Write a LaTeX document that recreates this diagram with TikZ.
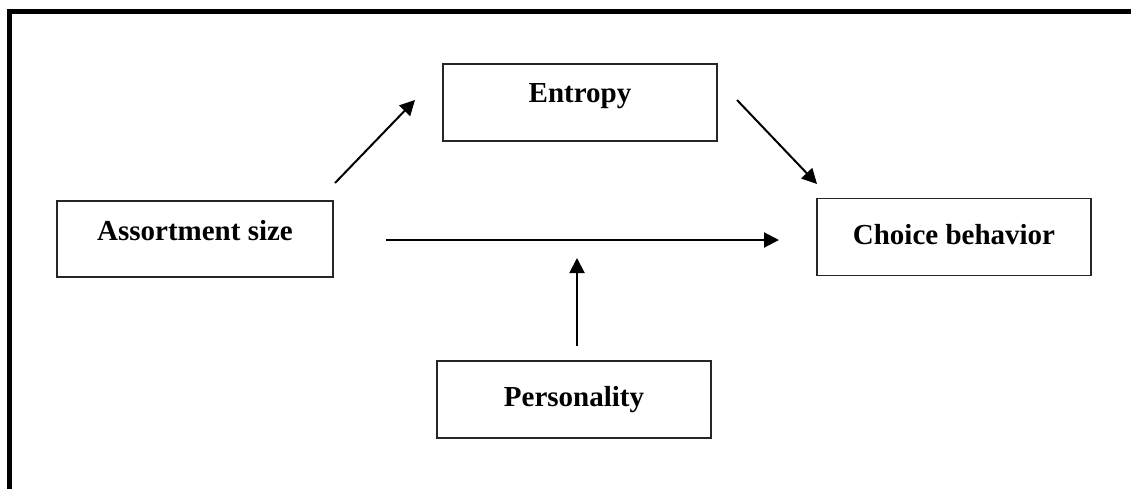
\documentclass[tikz,border=0pt]{standalone}
\usepackage{fontspec}
\setmainfont{Liberation Serif}
\usetikzlibrary{arrows.meta}
\begin{document}
\begin{tikzpicture}[x=1pt,y=-1pt,
  box/.style={draw=black!85, line width=1.3pt, rectangle, inner sep=0pt},
  lbl/.style={anchor=base, inner sep=0pt, font=\fontsize{29}{34}\selectfont\bfseries},
  arr/.style={line width=2pt, -{Triangle[length=15pt,width=15pt]}},
  frame/.style={line width=5pt, line cap=rect}]
\useasboundingbox (0,0) rectangle (1131,488);
% partial outer frame (top and left edges)
\draw[frame] (9,495) -- (9,11.5) -- (1140,11.5);
% boxes
\node[box, minimum width=274pt, minimum height=77pt] (ent) at (580,102.5) {};
\node[box, minimum width=276pt, minimum height=76pt] (ass) at (195,239) {};
\node[box, minimum width=274pt, minimum height=76.5pt] (cho) at (954,237) {};
\node[box, minimum width=274pt, minimum height=77pt] (per) at (574,399.5) {};
% labels
\node[lbl] (entT) at (580,102.7) {Entropy};
\node[lbl] (assT) at (195,240) {Assortment size};
\node[lbl] (choT) at (954,244) {Choice behavior};
\node[lbl] (perT) at (574,406) {Personality};
% connector ends
\coordinate (a1s) at (335,183);
\coordinate (a1e) at (415,100);
\coordinate (a2s) at (737,100);
\coordinate (a2e) at (817,184);
\coordinate (a3s) at (386,240);
\coordinate (a3e) at (779,240);
\coordinate (a4s) at (577,346);
\coordinate (a4e) at (577,258);
\draw[arr] (a1s) -- (a1e);
\draw[arr] (a2s) -- (a2e);
\draw[arr] (a3s) -- (a3e);
\draw[arr] (a4s) -- (a4e);
\end{tikzpicture}
\end{document}
